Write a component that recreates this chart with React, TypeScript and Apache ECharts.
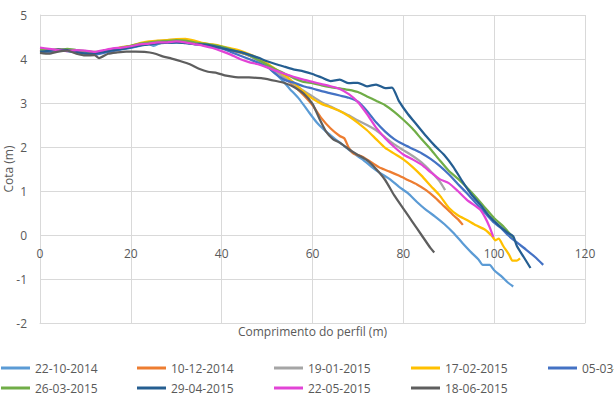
import React, { useEffect, useRef } from "react";
import * as echarts from "echarts";

const seriesNames = [
  "22-10-2014", "10-12-2014", "19-01-2015", "17-02-2015", "05-03-2015",
  "26-03-2015", "29-04-2015", "22-05-2015", "18-06-2015",
];
const seriesColors = [
  "#5B9BD5", "#ED7D31", "#A5A5A5", "#FFC000", "#4472C4",
  "#70AD47", "#255E91", "#E244D6", "#5E5E5E",
];

const s20141022 = [[0,4.17],[2,4.15],[4,4.18],[6,4.2],[8,4.16],[10,4.13],[12,4.1],[14,4.15],[16,4.18],[18,4.22],[20,4.25],[22,4.3],[24,4.34],[25,4.3],[27,4.38],[29,4.37],[31,4.4],[33,4.36],[35,4.33],[37,4.3],[39,4.26],[41,4.22],[43,4.17],[45,4.12],[47,4.03],[49,3.92],[51,3.75],[53,3.55],[55,3.32],[57,3.1],[59,2.82],[61,2.55],[63,2.35],[65,2.18],[67,2.02],[69,1.86],[71,1.72],[73,1.55],[75,1.4],[77,1.27],[79,1.1],[81,0.95],[83,0.75],[85,0.57],[87,0.42],[89,0.25],[91,0.05],[93,-0.18],[95,-0.4],[96.5,-0.55],[97.5,-0.68],[99,-0.68],[100,-0.8],[101.5,-0.93],[103,-1.08],[104.2,-1.17]];
const s20141210 = [[0,4.2],[2,4.18],[4,4.21],[6,4.2],[8,4.17],[10,4.16],[12,4.14],[14,4.17],[16,4.22],[18,4.26],[20,4.28],[22,4.33],[24,4.37],[26,4.4],[28,4.41],[30,4.42],[32,4.4],[34,4.36],[36,4.33],[38,4.3],[40,4.26],[42,4.2],[44,4.15],[46,4.08],[48,3.98],[50,3.86],[52,3.72],[54,3.56],[56,3.38],[58,3.18],[60,2.95],[62,2.65],[64,2.42],[66,2.25],[67,2.2],[68,1.98],[69,1.85],[71,1.78],[73,1.65],[75,1.52],[77,1.44],[79,1.35],[81,1.25],[83,1.15],[85,1.02],[87,0.85],[89,0.65],[91,0.45],[92,0.36],[93.1,0.23]];
const s20150119 = [[0,4.22],[2,4.2],[4,4.19],[6,4.22],[8,4.2],[10,4.16],[12,4.15],[14,4.18],[16,4.21],[18,4.25],[20,4.29],[22,4.34],[24,4.38],[26,4.41],[28,4.43],[30,4.44],[32,4.43],[34,4.39],[36,4.35],[38,4.31],[40,4.27],[42,4.22],[44,4.17],[46,4.08],[48,3.98],[50,3.86],[52,3.72],[54,3.57],[56,3.42],[58,3.28],[60,3.15],[62,3.02],[64,2.92],[66,2.82],[68,2.72],[70,2.6],[72,2.5],[74,2.38],[76,2.22],[78,2.06],[80,1.93],[82,1.8],[84,1.65],[86,1.45],[88,1.22],[89.2,1.02]];
const s20150217 = [[0,4.2],[2,4.2],[4,4.22],[6,4.21],[8,4.18],[10,4.17],[12,4.15],[14,4.18],[16,4.22],[18,4.27],[20,4.3],[22,4.36],[24,4.4],[26,4.42],[28,4.43],[30,4.45],[32,4.46],[34,4.42],[36,4.36],[38,4.33],[40,4.29],[42,4.24],[44,4.19],[46,4.11],[48,4.02],[50,3.9],[52,3.76],[54,3.62],[56,3.45],[58,3.26],[60,3.1],[62,2.98],[64,2.9],[66,2.82],[68,2.7],[70,2.55],[72,2.38],[74,2.18],[76,1.98],[78,1.85],[80,1.72],[82,1.55],[84,1.35],[86,1.12],[88,0.9],[90,0.62],[92,0.45],[94,0.34],[96,0.22],[98,0.12],[99.5,-0.02],[100.3,-0.12],[101,-0.08],[102,-0.25],[103.3,-0.45],[104,-0.58],[105,-0.58],[105.7,-0.53]];
const s20150305 = [[0,4.18],[2,4.17],[4,4.2],[6,4.18],[8,4.15],[10,4.14],[12,4.1],[14,4.14],[16,4.18],[18,4.23],[20,4.26],[22,4.31],[24,4.35],[26,4.36],[28,4.38],[30,4.38],[32,4.37],[34,4.34],[36,4.32],[38,4.28],[40,4.24],[42,4.16],[44,4.08],[46,4.0],[48,3.92],[50,3.82],[52,3.65],[54,3.52],[56,3.46],[58,3.38],[60,3.33],[62,3.27],[64,3.22],[66,3.17],[68,3.12],[70,3.03],[72,2.82],[74,2.56],[76,2.35],[78,2.18],[80,2.06],[82,1.96],[84,1.86],[86,1.73],[88,1.57],[90,1.38],[92,1.16],[94,0.95],[96,0.72],[98,0.5],[100,0.28],[101.5,0.16],[103,0.0],[105,-0.17],[107,-0.33],[109,-0.5],[110.8,-0.68]];
const s20150326 = [[0,4.22],[2,4.21],[4,4.19],[6,4.23],[8,4.2],[10,4.18],[12,4.16],[14,4.18],[16,4.22],[18,4.26],[20,4.3],[22,4.35],[24,4.38],[26,4.4],[28,4.41],[30,4.43],[32,4.42],[34,4.38],[36,4.35],[38,4.32],[40,4.28],[42,4.22],[44,4.16],[46,4.09],[48,3.98],[50,3.87],[52,3.76],[54,3.66],[56,3.56],[58,3.48],[60,3.45],[62,3.4],[64,3.36],[66,3.33],[68,3.3],[70,3.25],[72,3.15],[74,3.05],[76,2.95],[78,2.8],[80,2.62],[82,2.42],[84,2.18],[86,1.95],[88,1.7],[90,1.46],[92,1.28],[94,1.08],[96,0.86],[98,0.62],[100,0.38],[102,0.2],[103,0.08],[104.2,-0.05]];
const s20150429 = [[0,4.16],[2,4.19],[4,4.22],[6,4.2],[8,4.16],[10,4.12],[12,4.13],[14,4.16],[16,4.2],[18,4.23],[20,4.27],[22,4.31],[24,4.33],[26,4.36],[28,4.37],[30,4.38],[32,4.36],[34,4.34],[36,4.33],[38,4.3],[40,4.25],[42,4.2],[44,4.16],[46,4.1],[48,4.03],[50,3.95],[52,3.88],[54,3.82],[56,3.76],[58,3.72],[60,3.66],[62,3.58],[64,3.5],[66,3.53],[68,3.45],[70,3.46],[72,3.38],[74,3.42],[76,3.34],[77.5,3.35],[79,3.05],[81,2.75],[83,2.5],[85,2.25],[87,2.02],[89,1.82],[91,1.55],[93,1.22],[95,0.92],[97,0.68],[99,0.42],[101,0.22],[103,0.05],[104.2,-0.03],[105,-0.25],[106.5,-0.5],[108,-0.75]];
const s20150522 = [[0,4.26],[2,4.23],[4,4.2],[6,4.18],[8,4.2],[10,4.19],[12,4.16],[14,4.2],[16,4.24],[18,4.26],[20,4.29],[22,4.33],[24,4.35],[26,4.38],[28,4.38],[30,4.4],[32,4.38],[34,4.34],[36,4.3],[38,4.25],[40,4.18],[42,4.1],[44,4.0],[46,3.93],[48,3.88],[50,3.81],[52,3.73],[54,3.66],[56,3.59],[58,3.53],[60,3.48],[62,3.43],[64,3.38],[66,3.32],[68,3.2],[70,3.02],[72,2.75],[74,2.44],[76,2.2],[78,2.0],[80,1.83],[82,1.72],[84,1.6],[86,1.43],[88,1.27],[90,1.18],[92,1.0],[94,0.8],[96,0.65],[97,0.57],[98,0.4],[99,0.18],[99.8,-0.04]];
const s20150618 = [[0,4.14],[2,4.12],[4,4.17],[6,4.19],[8,4.12],[10,4.08],[12,4.09],[13,4.02],[15,4.12],[17,4.15],[19,4.17],[21,4.17],[23,4.16],[25,4.13],[27,4.06],[29,4.01],[31,3.95],[33,3.88],[35,3.78],[37,3.71],[39,3.68],[41,3.62],[43,3.59],[46,3.58],[49,3.56],[52,3.5],[54,3.45],[56,3.36],[58,3.22],[60,2.98],[61.5,2.65],[63,2.35],[64.5,2.18],[66,2.1],[68,1.95],[70,1.82],[72,1.7],[74,1.5],[76,1.25],[78,0.9],[80,0.6],[82,0.3],[84,0.0],[86,-0.3],[86.8,-0.4]];

const seriesData = [s20141022, s20141210, s20150119, s20150217, s20150305, s20150326, s20150429, s20150522, s20150618];

const FONT = "'Open Sans', sans-serif";
const TXT = "#595959";

export default function App() {
  const ref = useRef<HTMLDivElement>(null);
  useEffect(() => {
    if (!ref.current) return;
    const chart = echarts.init(ref.current, null, { renderer: "svg" });
    const legendCols = [1, 137, 274, 411, 548];
    const legendRows = [362, 382];
    const legends = seriesNames.map((name, i) => ({
      data: [name],
      left: legendCols[i % 5],
      top: legendRows[Math.floor(i / 5)],
      padding: 0,
      itemWidth: 29,
      itemHeight: 3,
      icon: "rect",
      selectedMode: false,
      textStyle: { color: TXT, fontSize: 12, fontFamily: FONT },
    }));
    chart.setOption({
      animation: false,
      textStyle: { fontFamily: FONT },
      grid: { left: 40, right: 29, top: 15, bottom: 79, containLabel: false, outerBoundsMode: "none" },
      legend: legends,
      xAxis: {
        type: "value",
        min: 0,
        max: 120,
        interval: 20,
        name: "Comprimento do perfil (m)",
        nameLocation: "middle",
        nameGap: 2,
        nameMoveOverlap: false,
        nameTextStyle: { color: TXT, fontSize: 12, fontFamily: FONT },
        axisLine: { show: true, onZero: false, lineStyle: { color: "#D9D9D9", width: 1 } },
        axisTick: { show: false },
        axisLabel: { color: TXT, fontSize: 12, fontFamily: FONT, margin: -76 },
        splitLine: { show: true, lineStyle: { color: "#D9D9D9", width: 1 } },
      },
      yAxis: {
        type: "value",
        min: -2,
        max: 5,
        interval: 1,
        name: "Cota (m)",
        nameLocation: "middle",
        nameGap: 26,
        nameMoveOverlap: false,
        nameTextStyle: { color: TXT, fontSize: 12, fontFamily: FONT },
        axisLine: { show: true, onZero: false, lineStyle: { color: "#D9D9D9", width: 1 } },
        axisTick: { show: false },
        axisLabel: { color: TXT, fontSize: 12, fontFamily: FONT, margin: 13 },
        splitLine: { show: true, lineStyle: { color: "#D9D9D9", width: 1 } },
      },
      series: seriesNames.map((name, i) => ({
        name,
        type: "line",
        data: seriesData[i],
        showSymbol: false,
        symbol: "none",
        smooth: 0.2,
        color: seriesColors[i],
        lineStyle: { width: 2.25, color: seriesColors[i] },
      })),
    });
    return () => chart.dispose();
  }, []);
  return (
    <div
      ref={ref}
      style={{ position: "fixed", left: 0, top: 0, width: 614, height: 402, background: "#fff" }}
    />
  );
}
